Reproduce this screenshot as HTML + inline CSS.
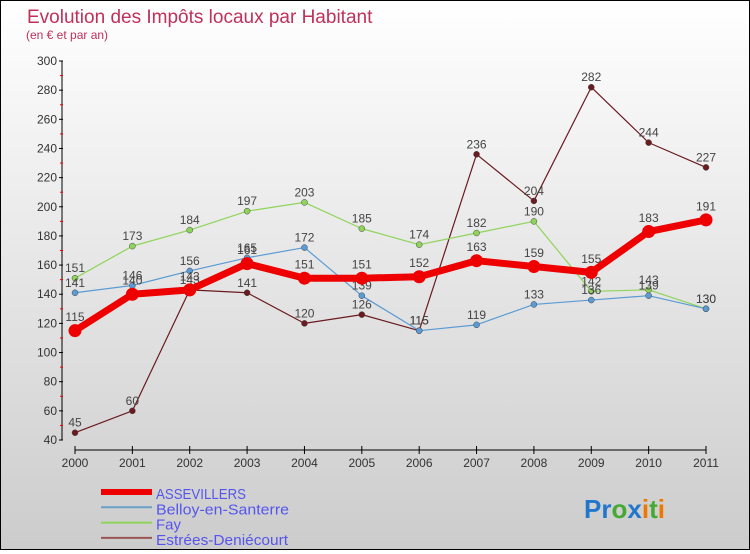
<!DOCTYPE html>
<html><head><meta charset="utf-8"><style>
body{margin:0;width:750px;height:550px;overflow:hidden;font-family:"Liberation Sans",sans-serif}
#wrap{position:relative;width:748px;height:548px;border:1px solid #000;background:linear-gradient(#fff,#ccc)}
</style></head><body>
<div id="wrap">
<svg id="c" width="748" height="548"></svg>
</div>
<script>
const years=[2000,2001,2002,2003,2004,2005,2006,2007,2008,2009,2010,2011];
const assevillers=[115,140,143,161,151,151,152,163,159,155,183,191];
const belloy=[141,146,156,165,172,139,115,119,133,136,139,130];
const fay=[151,173,184,197,203,185,174,182,190,142,143,130];
const estrees=[45,60,143,141,120,126,115,236,204,282,244,227];
const yTicks=[40,60,80,100,120,140,160,180,200,220,240,260,280,300];
const NS='http://www.w3.org/2000/svg';
const svg=document.getElementById('c');
const X=i=>74+i*(631/11);
const Y=v=>439-(v-40)*(379/260);
function el(t,a,p){const e=document.createElementNS(NS,t);for(const k in a)e.setAttribute(k,a[k]);(p||svg).appendChild(e);return e;}
let t=el('text',{x:26,y:22,fill:'#c0305a','font-size':19});t.textContent='Evolution des Impôts locaux par Habitant';


t=el('text',{x:25,y:38,fill:'#c0305a','font-size':12});t.textContent='(en € et par an)';


let ax=el('line',{x1:61,y1:Y(300),x2:61,y2:Y(40),stroke:'#000','stroke-width':1});


yTicks.forEach(v=>{el('line',{x1:58,x2:62,y1:Y(v),y2:Y(v),stroke:'#000'});
 if(v<300)el('line',{x1:59,x2:62,y1:Y(v+10),y2:Y(v+10),stroke:'#e00'});
 const tt=el('text',{x:56,y:Y(v)+4,'text-anchor':'end','font-size':12,fill:'#333'});tt.textContent=v;
 
 });
let xa=el('line',{x1:X(0),x2:X(11),y1:449,y2:449,stroke:'#000'});


years.forEach((y,i)=>{el('line',{x1:X(i),x2:X(i),y1:445,y2:453,stroke:'#000'});
 const tt=el('text',{x:X(i),y:466,'text-anchor':'middle','font-size':12,fill:'#333'});tt.textContent=y;
 
 });
function series(d,color,w,r,name){
 const g=el('g',{});
 
 
 el('polyline',{points:d.map((v,i)=>X(i)+','+Y(v)).join(' '),fill:'none',stroke:color,'stroke-width':w,'stroke-linejoin':'round'},g);
 d.forEach((v,i)=>{const c=el('circle',{cx:X(i),cy:Y(v),r:r,fill:color,stroke:w>3?'none':'#444','stroke-width':0.5},g);
  
  
  const l=el('text',{x:X(i),y:Y(v)-r-3,'text-anchor':'middle','font-size':12,fill:'#444'},g);l.textContent=v;
  
  });
}
series(estrees,'#6b1a1f',1.2,3,'estrees-series');
series(fay,'#8fd45a',1.2,3,'fay-series');
series(belloy,'#5a9bd5',1.2,3,'belloy-series');
series(assevillers,'#ee0000',7,6.5,'assevillers-series');
const leg=[['ASSEVILLERS','#ee0000',6,90],['Belloy-en-Santerre','#6aa0c8',2,133],['Fay','#8fd45a',2,25],['Estrées-Deniécourt','#995555',2,132]];
leg.forEach((L,i)=>{const y=491+i*15.3;const g=el('g',{});
 
 
 el('line',{x1:100,x2:151,y1:y,y2:y,stroke:L[1],'stroke-width':L[2]},g);
 const tt=el('text',{x:155,y:y+7,'font-size':15,fill:'#5555ee','textLength':L[3],'lengthAdjust':'spacingAndGlyphs'},g);tt.textContent=L[0];});
const lg=el('text',{x:583,y:517,'font-size':26,'font-weight':'bold'});


[['Pr','#2277cc'],['o','#44aa33'],['x','#2277cc'],['i','#ee7700'],['t','#44aa33'],['i','#ee7700']].forEach(p=>{const s=el('tspan',{fill:p[1]},lg);s.textContent=p[0];});
</script>
</body></html>
